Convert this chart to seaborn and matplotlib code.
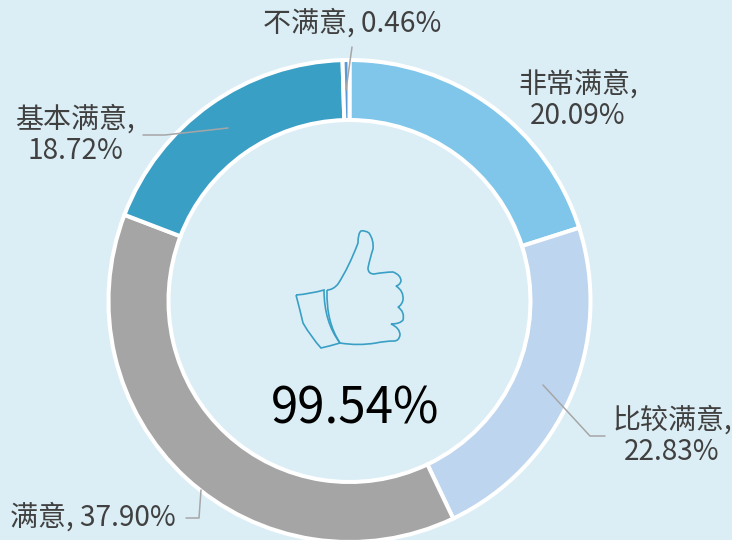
import matplotlib
matplotlib.use("Agg")
import matplotlib.pyplot as plt
from matplotlib.path import Path as MplPath
from matplotlib.patches import PathPatch
import seaborn as sns

categories = ["非常满意", "比较满意", "满意", "基本满意", "不满意"]
shares = [20.09, 22.83, 37.90, 18.72, 0.46]
colors = ["#7FC6EA", "#BDD5EE", "#A5A5A5", "#3A9FC5", "#5B9BD5"]
total_label = "99.54%"

BG = "#DCEEF5"
TEXT = "#404040"
LEADER = "#A6A6A6"
ICON = "#3A9FC5"


def curve(points):
    # quadratic segments: start, then ctrl/end pairs
    codes = [MplPath.MOVETO] + [MplPath.CURVE3] * (len(points) - 1)
    return MplPath([(x, -y) for x, y in points], codes)


def main():
    sns.set_theme(style="white")
    plt.rcParams["font.family"] = ["Noto Sans CJK SC", "DejaVu Sans"]

    fig = plt.figure(figsize=(7.32, 5.4), dpi=100, facecolor=BG)
    ax = fig.add_axes([0, 0, 1, 1])

    ax.pie(
        shares,
        colors=colors,
        startangle=90,
        counterclock=False,
        center=(349.5, -301),
        radius=241,
        frame=True,
        wedgeprops={"width": 60, "edgecolor": "white", "linewidth": 2.9},
    )
    ax.set_xlim(0, 732)
    ax.set_ylim(-540, 0)
    ax.set_aspect("auto")
    ax.axis("off")

    # leader lines
    leaders = [
        ([352, 346], [47, 90]),
        ([143, 165, 228], [135, 135, 128]),
        ([543, 590, 605], [385, 436, 436]),
        ([186, 199, 201], [518, 518, 490]),
    ]
    for xs, ys in leaders:
        ax.plot(xs, [-y for y in ys], color=LEADER, lw=1.1, zorder=5)

    # labels
    fs = 20.2
    lab = [f"{c}, {v:.2f}%" for c, v in zip(categories, shares)]
    label_kw = dict(ha="center", va="center", fontsize=fs, color=TEXT, linespacing=1.05)
    ax.text(578, -100, lab[0].replace(", ", ",\n"), **label_kw)
    ax.text(672, -436, lab[1].replace(", ", ",\n"), **label_kw)
    ax.text(93, -518, lab[2], **label_kw)
    ax.text(75, -135, lab[3].replace(", ", ",\n"), **label_kw)
    ax.text(352, -24, lab[4], **label_kw)

    ax.text(355.5, -410, total_label, ha="center", va="center", fontsize=35.5, color="black")

    # thumbs-up icon
    hand = curve([
        (327, 290), (333, 290), (338, 284), (349, 267), (358, 243),
        (358, 233), (361, 231), (365, 230), (369, 233), (374, 240), (373, 249),
        (370, 258), (368, 268), (368, 274), (374, 274), (385, 272), (393, 272),
        (401, 275), (401, 281), (400, 285), (396, 286), (404, 291), (403, 300),
        (402, 305), (398, 307), (405, 312), (403, 320), (400, 324), (391, 324),
        (400, 328), (400, 335), (399, 341), (394, 341), (385, 341), (376, 343),
        (358, 346), (340, 343),
    ])
    cuff = curve([
        (296, 295), (310, 294), (324, 290), (324, 322), (340, 343),
        (330, 346), (321, 348), (311, 337), (303, 323), (300, 310), (296, 295),
    ])
    band = curve([(327, 290), (326, 322), (340, 343)])
    for p in [hand, cuff, band]:
        ax.add_patch(PathPatch(p, fill=False, edgecolor=ICON, lw=1.2, zorder=6))

    fig.savefig("out.png", dpi=100, facecolor=BG)
    plt.close(fig)


if __name__ == "__main__":
    main()
